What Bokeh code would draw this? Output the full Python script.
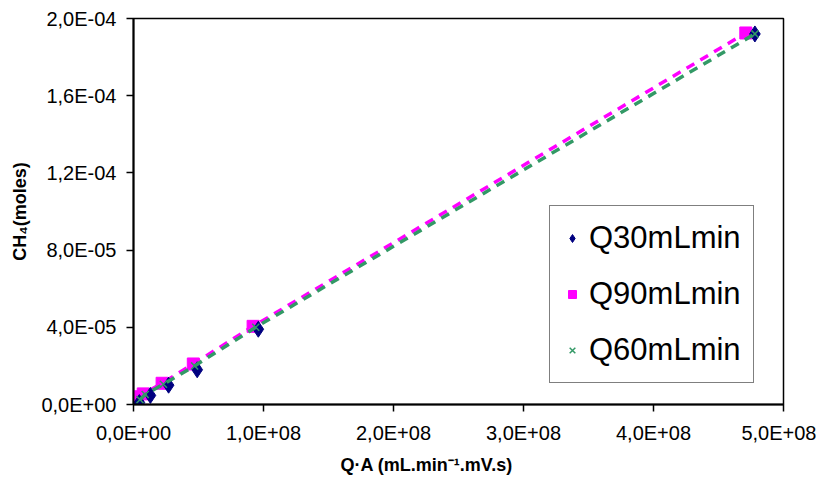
from bokeh.plotting import figure
from bokeh.models import FixedTicker, Range1d, Legend, LegendItem, Title
from bokeh.embed import file_html
from bokeh.resources import INLINE

# ---- data ----
q30_x = [4.5e6, 1.3e7, 2.7e7, 4.9e7, 9.6e7, 4.78e8]
q30_y = [1.0e-6, 4.7e-6, 1.0e-5, 1.8e-5, 3.9e-5, 1.92e-4]

q90_x = [3.0e6, 7.5e6, 2.2e7, 4.6e7, 9.2e7, 4.71e8]
q90_y = [4.0e-6, 5.5e-6, 1.1e-5, 2.1e-5, 4.05e-5, 1.925e-4]

q60_x = [5.0e6, 9.0e6, 2.3e7, 4.7e7, 9.4e7, 4.78e8]
q60_y = [2.5e-6, 5.2e-6, 1.05e-5, 2.0e-5, 4.0e-5, 1.92e-4]

series_names = ["Q30mLmin", "Q90mLmin", "Q60mLmin"]

x_ticks = [0, 1e8, 2e8, 3e8, 4e8, 5e8]
x_tick_labels = ["0,0E+00", "1,0E+08", "2,0E+08", "3,0E+08", "4,0E+08", "5,0E+08"]
y_ticks = [0, 4e-5, 8e-5, 1.2e-4, 1.6e-4, 2e-4]
y_tick_labels = ["0,0E+00", "4,0E-05", "8,0E-05", "1,2E-04", "1,6E-04", "2,0E-04"]

x_title = "Q·A (mL.min⁻¹.mV.s)"
y_title = "CH₄(moles)"

FONT = "Liberation Sans"

p = figure(width=816, height=486, output_backend="svg", toolbar_location=None,
           x_range=Range1d(0, 5e8), y_range=Range1d(0, 2e-4),
           min_border_left=133, min_border_right=33, min_border_top=18,
           min_border_bottom=82)

p.xgrid.visible = False
p.ygrid.visible = False
p.outline_line_color = "black"
p.outline_line_width = 1.5
p.background_fill_color = "white"
p.border_fill_color = "white"

# lines and markers
p.line(q90_x, q90_y, line_color="#FF00FF", line_width=3.5, line_dash="9 7")
r90 = p.scatter(q90_x, q90_y, marker="square", size=12, fill_color="#FF00FF", line_color="#FF00FF")
r30 = p.scatter(q30_x, q30_y, marker="diamond", size=16,
                fill_color="#000080", line_color="#000080")
p.line(q60_x, q60_y, line_color="#339966", line_width=3.5, line_dash="9 7")
r60 = p.scatter(q60_x, q60_y, marker="x", size=10, line_color="#339966", line_width=1.5)

legend = Legend(items=[LegendItem(label=series_names[0], renderers=[r30]),
                       LegendItem(label=series_names[1], renderers=[r90]),
                       LegendItem(label=series_names[2], renderers=[r60])],
                location=(416, 21))
legend.label_text_font = FONT
legend.label_text_font_size = "31px"
legend.label_text_color = "black"
legend.label_height = 40
legend.glyph_height = 20
legend.glyph_width = 20
legend.spacing = 16
legend.padding = 12
legend.label_standoff = 7
legend.border_line_color = "black"
legend.border_line_width = 1.5
legend.background_fill_alpha = 1.0
legend.margin = 0
p.add_layout(legend, "center")

for ax, ticks, labels in ((p.xaxis[0], x_ticks, x_tick_labels), (p.yaxis[0], y_ticks, y_tick_labels)):
    ax.ticker = FixedTicker(ticks=ticks)
    ax.major_label_overrides = {t: l for t, l in zip(ticks, labels)}
    ax.minor_tick_line_color = None
    ax.major_tick_in = 0
    ax.major_tick_out = 7
    ax.major_tick_line_width = 1.5
    ax.axis_line_width = 2
    ax.axis_line_color = "black"
    ax.major_tick_line_color = "black"
    ax.major_label_text_font = FONT
    ax.major_label_text_font_size = "20px"
    ax.major_label_text_color = "black"
    ax.axis_label_text_font = FONT
    ax.axis_label_text_font_size = "18px"
    ax.axis_label_text_font_style = "bold"
    ax.axis_label_text_color = "black"

p.xaxis.major_label_standoff = 10
p.yaxis.major_label_standoff = 10
p.yaxis.axis_label = y_title
p.yaxis.axis_label_standoff = 8

# x-axis title, a little left of the frame centre as in the reference
p.add_layout(Title(text=x_title, align="left", offset=207, standoff=12,
                   text_font=FONT, text_font_size="18px", text_font_style="bold",
                   text_color="black"), "below")

open("out.html", "w").write(file_html(p, INLINE))
